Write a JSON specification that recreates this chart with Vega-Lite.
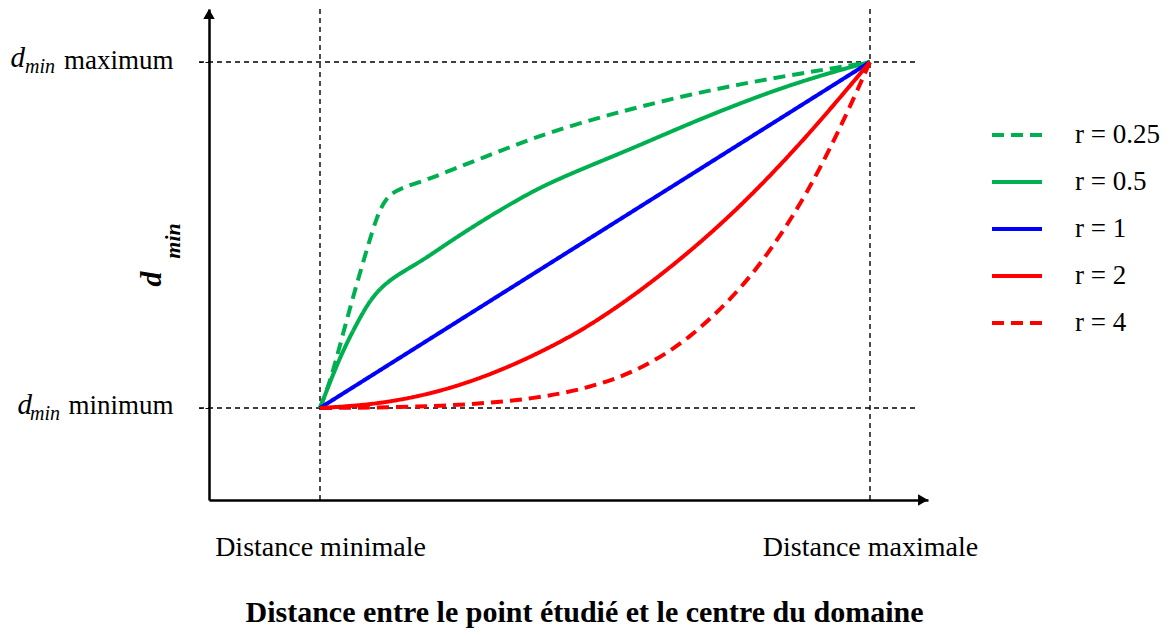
{
  "$schema": "https://vega.github.io/schema/vega-lite/v6.json",
  "width": 719,
  "height": 491,
  "autosize": {"type": "none"},
  "padding": {"left": 209, "top": 9, "right": 247, "bottom": 137},
  "background": "white",
  "config": {"view": {"stroke": null}, "font": "Liberation Serif"},
  "datasets": {
    "curves": [
      {"r": "0.25", "x": 0, "y": 0}, {"r": "0.25", "x": 0.018, "y": 0.072}, {"r": "0.25", "x": 0.042, "y": 0.216},
      {"r": "0.25", "x": 0.067, "y": 0.36}, {"r": "0.25", "x": 0.085, "y": 0.457}, {"r": "0.25", "x": 0.103, "y": 0.553},
      {"r": "0.25", "x": 0.121, "y": 0.611}, {"r": "0.25", "x": 0.145, "y": 0.635}, {"r": "0.25", "x": 0.194, "y": 0.659},
      {"r": "0.25", "x": 0.242, "y": 0.69}, {"r": "0.25", "x": 0.297, "y": 0.724}, {"r": "0.25", "x": 0.358, "y": 0.762},
      {"r": "0.25", "x": 0.424, "y": 0.8}, {"r": "0.25", "x": 0.509, "y": 0.84}, {"r": "0.25", "x": 0.582, "y": 0.871},
      {"r": "0.25", "x": 0.673, "y": 0.906}, {"r": "0.25", "x": 0.764, "y": 0.936}, {"r": "0.25", "x": 0.855, "y": 0.962},
      {"r": "0.25", "x": 0.945, "y": 0.985}, {"r": "0.25", "x": 1, "y": 1},
      {"r": "0.5", "x": 0, "y": 0}, {"r": "0.5", "x": 0.036, "y": 0.148}, {"r": "0.5", "x": 0.067, "y": 0.245},
      {"r": "0.5", "x": 0.091, "y": 0.312}, {"r": "0.5", "x": 0.115, "y": 0.355}, {"r": "0.5", "x": 0.145, "y": 0.389},
      {"r": "0.5", "x": 0.188, "y": 0.428}, {"r": "0.5", "x": 0.236, "y": 0.481}, {"r": "0.5", "x": 0.297, "y": 0.543},
      {"r": "0.5", "x": 0.358, "y": 0.601}, {"r": "0.5", "x": 0.418, "y": 0.652}, {"r": "0.5", "x": 0.509, "y": 0.712},
      {"r": "0.5", "x": 0.582, "y": 0.76}, {"r": "0.5", "x": 0.673, "y": 0.823}, {"r": "0.5", "x": 0.764, "y": 0.881},
      {"r": "0.5", "x": 0.855, "y": 0.934}, {"r": "0.5", "x": 0.945, "y": 0.977}, {"r": "0.5", "x": 1, "y": 1},
      {"r": "1", "x": 0, "y": 0}, {"r": "1", "x": 0.5, "y": 0.5}, {"r": "1", "x": 1, "y": 1},
      {"r": "2", "x": 0, "y": 0}, {"r": "2", "x": 0.085, "y": 0.008}, {"r": "2", "x": 0.176, "y": 0.031},
      {"r": "2", "x": 0.267, "y": 0.071}, {"r": "2", "x": 0.358, "y": 0.128}, {"r": "2", "x": 0.449, "y": 0.2},
      {"r": "2", "x": 0.509, "y": 0.258}, {"r": "2", "x": 0.582, "y": 0.338}, {"r": "2", "x": 0.673, "y": 0.452},
      {"r": "2", "x": 0.764, "y": 0.582}, {"r": "2", "x": 0.855, "y": 0.732}, {"r": "2", "x": 0.927, "y": 0.862},
      {"r": "2", "x": 1, "y": 1},
      {"r": "4", "x": 0, "y": 0}, {"r": "4", "x": 0.145, "y": 0.002}, {"r": "4", "x": 0.267, "y": 0.009},
      {"r": "4", "x": 0.388, "y": 0.026}, {"r": "4", "x": 0.491, "y": 0.058}, {"r": "4", "x": 0.582, "y": 0.11},
      {"r": "4", "x": 0.673, "y": 0.2}, {"r": "4", "x": 0.764, "y": 0.341}, {"r": "4", "x": 0.824, "y": 0.466},
      {"r": "4", "x": 0.885, "y": 0.618}, {"r": "4", "x": 0.945, "y": 0.805}, {"r": "4", "x": 1, "y": 1}
    ],
    "hrefs": [{"v": 0, "x0": -0.22, "x1": 1.0873}, {"v": 1, "x0": -0.22, "x1": 1.0873}],
    "vrefs": [{"v": 0}, {"v": 1}],
    "xaxisend": [{"x": 1.0964, "y": -0.2659}],
    "yaxisend": [{"x": -0.20182, "y": 1.1387}],
    "ylabels": [{"x": -0.20182, "y": 1, "d": "d", "sub": "min"}, {"x": -0.20182, "y": 0, "d": "d", "sub": "min"}],
    "ytitle": [{"x": -0.20182, "y": 0.5, "d": "d", "sub": "min"}]
  },
  "layer": [
    {
      "data": {"name": "hrefs"},
      "mark": {"type": "rule", "color": "black", "strokeWidth": 1.4, "strokeDash": [5, 4], "clip": false},
      "encoding": {
        "y": {"field": "v", "type": "quantitative", "scale": {"domain": [-0.2659, 1.15318], "nice": false, "zero": false}},
        "x": {"field": "x0", "type": "quantitative", "scale": {"domain": [-0.20182, 1.10545], "nice": false, "zero": false}},
        "x2": {"field": "x1"}
      }
    },
    {
      "data": {"name": "vrefs"},
      "mark": {"type": "rule", "color": "black", "strokeWidth": 1.4, "strokeDash": [5, 4]},
      "encoding": {
        "x": {"field": "v", "type": "quantitative"}
      }
    },
    {
      "data": {"name": "curves"},
      "mark": {"type": "line", "strokeWidth": 4, "interpolate": "basis", "clip": false},
      "encoding": {
        "x": {
          "field": "x", "type": "quantitative",
          "scale": {"domain": [-0.20182, 1.10545], "nice": false, "zero": false},
          "axis": {
            "values": [0, 1], "grid": false, "ticks": false, "tickSize": 0,
            "domain": true, "domainColor": "black", "domainWidth": 2.5,
            "labelExpr": "datum.value == 0 ? 'Distance minimale' : 'Distance maximale'",
            "labelFont": "Liberation Serif", "labelFontSize": 28, "labelColor": "black", "labelLimit": 0,
            "labelBaseline": "alphabetic", "labelPadding": 55, "labelFlush": false, "labelOverlap": false,
            "title": "Distance entre le point étudié et le centre du domaine",
            "titleFont": "Liberation Serif", "titleFontSize": 30, "titleFontWeight": "bold", "titleColor": "black", "titleLimit": 0,
            "titleX": 375, "titleY": 121, "titleAlign": "center", "titleBaseline": "alphabetic"
          }
        },
        "y": {
          "field": "y", "type": "quantitative",
          "scale": {"domain": [-0.2659, 1.15318], "nice": false, "zero": false},
          "axis": {
            "values": [0, 1], "grid": false, "ticks": true, "tickSize": 10, "tickColor": "black", "tickWidth": 1, "tickDash": [4, 3],
            "domain": true, "domainColor": "black", "domainWidth": 2.5,
            "labelExpr": "datum.value == 0 ? 'minimum' : 'maximum'",
            "labelFont": "Liberation Serif", "labelFontSize": 27, "labelColor": "black", "labelLimit": 0,
            "labelBaseline": "alphabetic", "labelOffset": 6, "labelPadding": 26, "labelFlush": false, "labelOverlap": false,
            "title": null
          }
        },
        "color": {
          "field": "r", "type": "nominal",
          "scale": {"domain": ["0.25", "0.5", "1", "2", "4"], "range": ["#00B050", "#00B050", "#0000FF", "#FF0000", "#FF0000"]},
          "legend": {
            "orient": "none", "legendX": 781, "legendY": 99, "title": null,
            "symbolType": "stroke", "symbolSize": 2500, "symbolStrokeWidth": 4,
            "labelFont": "Liberation Serif", "labelFontSize": 27, "labelColor": "black", "labelOffset": 31,
            "rowPadding": 7, "labelExpr": "'r = ' + datum.label"
          }
        },
        "strokeDash": {
          "field": "r", "type": "nominal",
          "scale": {"domain": ["0.25", "0.5", "1", "2", "4"], "range": [[12, 7], [1, 0], [1, 0], [1, 0], [12, 7]]}
        }
      }
    },
    {
      "data": {"name": "xaxisend"},
      "mark": {"type": "point", "shape": "triangle-right", "filled": true, "color": "black", "size": 130, "opacity": 1, "clip": false},
      "encoding": {"x": {"field": "x", "type": "quantitative"}, "y": {"field": "y", "type": "quantitative"}}
    },
    {
      "data": {"name": "yaxisend"},
      "mark": {"type": "point", "shape": "triangle-up", "filled": true, "color": "black", "size": 130, "opacity": 1, "clip": false},
      "encoding": {"x": {"field": "x", "type": "quantitative"}, "y": {"field": "y", "type": "quantitative"}}
    },
    {
      "data": {"name": "ylabels"},
      "transform": [{"filter": "datum.y == 1"}],
      "layer": [
        {
          "mark": {"type": "text", "font": "Liberation Serif", "fontStyle": "italic", "fontSize": 29, "align": "right", "baseline": "alphabetic", "dx": -184, "dy": 5, "color": "black"},
          "encoding": {"x": {"field": "x", "type": "quantitative"}, "y": {"field": "y", "type": "quantitative"}, "text": {"field": "d"}}
        },
        {
          "mark": {"type": "text", "font": "Liberation Serif", "fontStyle": "italic", "fontSize": 20, "align": "right", "baseline": "alphabetic", "dx": -154, "dy": 11, "color": "black"},
          "encoding": {"x": {"field": "x", "type": "quantitative"}, "y": {"field": "y", "type": "quantitative"}, "text": {"field": "sub"}}
        }
      ]
    },
    {
      "data": {"name": "ylabels"},
      "transform": [{"filter": "datum.y == 0"}],
      "layer": [
        {
          "mark": {"type": "text", "font": "Liberation Serif", "fontStyle": "italic", "fontSize": 29, "align": "right", "baseline": "alphabetic", "dx": -177, "dy": 6, "color": "black"},
          "encoding": {"x": {"field": "x", "type": "quantitative"}, "y": {"field": "y", "type": "quantitative"}, "text": {"field": "d"}}
        },
        {
          "mark": {"type": "text", "font": "Liberation Serif", "fontStyle": "italic", "fontSize": 20, "align": "right", "baseline": "alphabetic", "dx": -149, "dy": 12, "color": "black"},
          "encoding": {"x": {"field": "x", "type": "quantitative"}, "y": {"field": "y", "type": "quantitative"}, "text": {"field": "sub"}}
        }
      ]
    },
    {
      "data": {"name": "ytitle"},
      "layer": [
        {
          "mark": {"type": "text", "font": "Liberation Serif", "fontStyle": "italic", "fontWeight": "bold", "fontSize": 30, "align": "center", "baseline": "alphabetic", "angle": 270, "dx": -44, "dy": -48, "color": "black"},
          "encoding": {"x": {"field": "x", "type": "quantitative"}, "y": {"field": "y", "type": "quantitative"}, "text": {"field": "d"}}
        },
        {
          "mark": {"type": "text", "font": "Liberation Serif", "fontStyle": "italic", "fontWeight": "bold", "fontSize": 22, "align": "center", "baseline": "alphabetic", "angle": 270, "dx": -6, "dy": -29, "color": "black"},
          "encoding": {"x": {"field": "x", "type": "quantitative"}, "y": {"field": "y", "type": "quantitative"}, "text": {"field": "sub"}}
        }
      ]
    }
  ]
}
